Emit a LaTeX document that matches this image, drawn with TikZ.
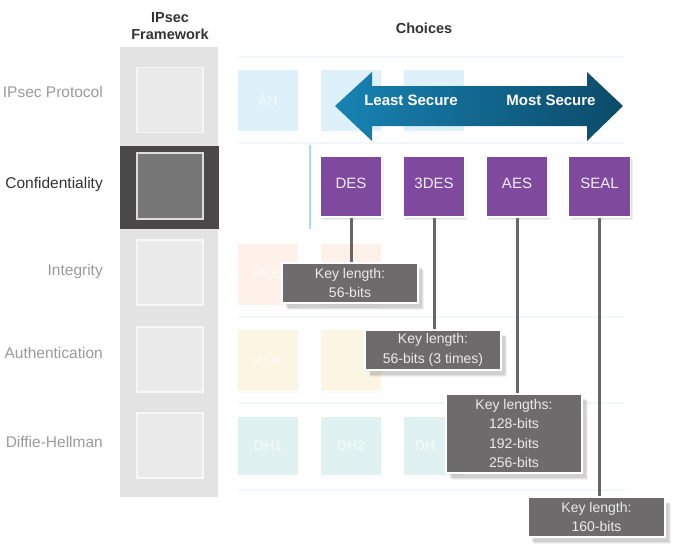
\documentclass[tikz,border=0pt]{standalone}
\usepackage{fontspec}
\setmainfont{Liberation Sans}
\usetikzlibrary{shadows}
\definecolor{rowlbl}{HTML}{9A9A9A}
\definecolor{darklbl}{HTML}{333333}
\definecolor{fwgrey}{HTML}{E3E3E3}
\definecolor{fwsq}{HTML}{EAEAEA}
\definecolor{confdark}{HTML}{4A4848}
\definecolor{confsq}{HTML}{777777}
\definecolor{purp}{HTML}{7F4A9E}
\definecolor{keyfill}{HTML}{6D6B6B}
\definecolor{conncol}{HTML}{666666}
\definecolor{fadeblue}{HTML}{DEF0F9}
\definecolor{fadepeach}{HTML}{FDF1E9}
\definecolor{fadeyellow}{HTML}{FAF6E3}
\definecolor{fadecyan}{HTML}{DFF2F1}
\definecolor{sepline}{HTML}{F2F6F9}
\definecolor{arrowL}{HTML}{1783B4}
\definecolor{arrowR}{HTML}{0C4A68}
\definecolor{vline}{HTML}{A9D9F1}
\pgfdeclarelayer{bglayer}
\pgfdeclarelayer{connlayer}
\pgfsetlayers{bglayer,connlayer,main}
\begin{document}
\begin{tikzpicture}[x=1pt,y=-1pt,
  rowlabel/.style={anchor=mid east,inner sep=0pt,text=rowlbl,font=\fontsize{15.5}{18}\selectfont},
  header/.style={inner sep=0pt,text=darklbl,align=center,font=\bfseries\fontsize{14.5}{17.5}\selectfont},
  fwsquare/.style={draw=white!60!fwsq,line width=1.2pt,fill=fwsq,minimum width=66pt,minimum height=65pt,inner sep=0pt},
  fade/.style={fill=#1,draw=white,line width=1pt,minimum width=61pt,minimum height=62pt,inner sep=0pt,text=white!70!#1,font=\fontsize{14}{16}\selectfont,
     drop shadow={shadow xshift=0.5pt,shadow yshift=-1.5pt,opacity=0.05}},
  cipher/.style={fill=purp,draw=white,line width=1.5pt,minimum width=62pt,minimum height=61pt,inner sep=0pt,text=white!90!purp,
     font=\fontsize{15}{18}\selectfont,text depth=6pt,
     drop shadow={shadow xshift=1pt,shadow yshift=-1.5pt,opacity=0.15},
     drop shadow={shadow xshift=2pt,shadow yshift=-2.5pt,opacity=0.12}},
  keybox/.style={fill=keyfill,draw=white,line width=1.5pt,minimum width=136pt,inner sep=0pt,align=center,text=white!92!black,
     font=\fontsize{14}{19.5}\selectfont,
     drop shadow={shadow xshift=5.5pt,shadow yshift=-6.5pt,opacity=0.10},
     drop shadow={shadow xshift=4.5pt,shadow yshift=-5.5pt,opacity=0.15},
     drop shadow={shadow xshift=3.5pt,shadow yshift=-4.5pt,opacity=0.18}},
  conn/.style={draw=conncol,line width=3pt},
  sep/.style={draw=sepline,line width=2pt}
]
\useasboundingbox (0,0) rectangle (681,546);
\begin{pgfonlayer}{bglayer}
% faint separators
\foreach \yy in {57,143,317,403,490}{\draw[sep] (238,\yy) -- (625,\yy);}
% framework column
\fill[fwgrey] (120,47) rectangle (218,497);
\node[fwsquare] (fw1) at (170,100) {};
\fill[confdark] (120,146) rectangle (219,229);
\node[fwsquare,fill=confsq,draw=white!75!confsq,minimum height=66pt] (fw2) at (170,186) {};
\node[fwsquare] (fw3) at (170,272.5) {};
\node[fwsquare] (fw4) at (170,359.5) {};
\node[fwsquare] (fw5) at (170,445.5) {};
% faded choice boxes
\node[fade=fadeblue] (ah) at (268,100.5) {AH};
\node[fade=fadeblue] (esp) at (351,100.5) {};
\node[fade=fadeblue] (ahesp) at (434,100.5) {};
\node[fade=fadepeach] (md5) at (268,274) {MD5};
\node[fade=fadepeach] (sha) at (351,274) {};
\node[fade=fadeyellow] (psk) at (268,360.5) {PSK};
\node[fade=fadeyellow] (rsa) at (351,360.5) {};
\node[fade=fadecyan,minimum height=59pt] (dh1) at (268,445.5) {DH1};
\node[fade=fadecyan,minimum height=59pt] (dh2) at (351,445.5) {DH2};
\node[fade=fadecyan,minimum height=59pt] (dh5) at (434,445.5) {};
\node[text=white!70!fadecyan,inner sep=0pt,font=\fontsize{14}{16}\selectfont] (dh5t) at (425,445.5) {DH};
% security arrow
\shade[left color=arrowL,right color=arrowR]
  (335,106) -- (372,72) -- (372,86) -- (587,86) -- (587,72) -- (623,106)
  -- (587,141) -- (587,126) -- (372,126) -- (372,141) -- cycle;
\node[inner sep=0pt,text=white,font=\bfseries\fontsize{15}{18}\selectfont] (least) at (411,100) {Least Secure};
\node[inner sep=0pt,text=white,font=\bfseries\fontsize{15}{18}\selectfont] (most) at (551,100) {Most Secure};
\draw[draw=vline,line width=1.5pt] (310,145) -- (310,229);
\end{pgfonlayer}
% headers
\node[header] (hfw) at (170,26) {IPsec\\Framework};
\node[header] (hch) at (424,28) {Choices};
% row labels
\node[rowlabel] (l1) at (103,94.5) {IPsec Protocol};
\node[rowlabel,text=darklbl] (l2) at (103,185.5) {Confidentiality};
\node[rowlabel] (l3) at (103,272.5) {Integrity};
\node[rowlabel] (l4) at (103,355.5) {Authentication};
\node[rowlabel] (l5) at (103,445) {Diffie-Hellman};
% confidentiality row
\node[cipher] (des) at (351,186.5) {DES};
\node[cipher] (tdes) at (434,186.5) {3DES};
\node[cipher] (aes) at (517,186.5) {AES};
\node[cipher] (seal) at (599.5,186.5) {SEAL};
% key boxes
\node[keybox,minimum height=40pt] (k1) at (350,283) {Key length:\\56-bits};
\node[keybox,minimum height=40pt] (k2) at (433,350) {Key length:\\56-bits (3 times)};
\node[keybox,minimum height=79pt] (k3) at (514,433.5) {Key lengths:\\128-bits\\192-bits\\256-bits};
\node[keybox,minimum height=40pt,minimum width=137pt] (k4) at (596.5,517) {Key length:\\160-bits};
% connectors
\begin{pgfonlayer}{connlayer}
\draw[conn] (des.south) -- (des.south |- k1.north);
\draw[conn] (tdes.south) -- (tdes.south |- k2.north);
\draw[conn] (aes.south) -- (aes.south |- k3.north);
\draw[conn] (seal.south) -- (seal.south |- k4.north);
\end{pgfonlayer}
\end{tikzpicture}
\end{document}
